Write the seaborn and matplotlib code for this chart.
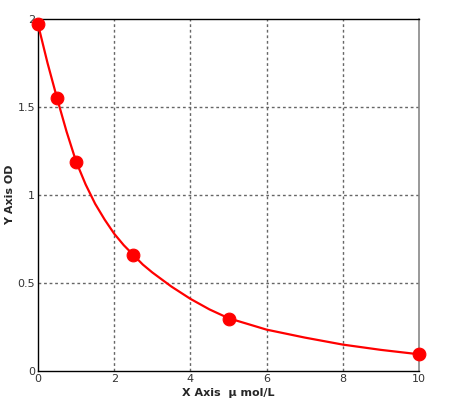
import numpy as np
import seaborn as sns
import matplotlib.pyplot as plt

# standard points
conc = [0, 0.5, 1, 2.5, 5, 10]
od = [1.97, 1.55, 1.19, 0.66, 0.295, 0.095]

# fitted curve
curve_x = [0, 0.25, 0.5, 0.75, 1, 1.25, 1.5, 1.75, 2, 2.25, 2.5, 2.75, 3, 3.5, 4, 4.5, 5, 6, 7, 8, 9, 10]
curve_y = [1.97, 1.75, 1.55, 1.36, 1.19, 1.06, 0.95, 0.86, 0.78, 0.715, 0.66, 0.605, 0.56, 0.48, 0.41, 0.35, 0.30, 0.235, 0.19, 0.15, 0.12, 0.095]

x_ticks = [0, 2, 4, 6, 8, 10]
y_ticks = [0, 0.5, 1, 1.5, 2]
y_labels = ["0", "0.5", "1", "1.5", "2"]

sns.set_style("white")
plt.rcParams["font.family"] = ["DejaVu Sans"]

fig = plt.figure(figsize=(4.53, 4.05), dpi=100)
ax = fig.add_axes([38 / 453, 34 / 405, 381 / 453, 352 / 405])

sns.lineplot(x=curve_x, y=curve_y, color="#ff0000", linewidth=1.6, ax=ax, zorder=3)
sns.scatterplot(x=conc, y=od, color="#ff0000", s=85, edgecolor="#ff0000", ax=ax, zorder=4, clip_on=False)

ax.set_xlim(0, 10)
ax.set_ylim(0, 2)
ax.set_xticks(x_ticks)
ax.set_yticks(y_ticks)
ax.set_yticklabels(y_labels)
ax.tick_params(length=0, labelsize=8, colors="#333333", pad=2)

for v in x_ticks[1:-1]:
    ax.axvline(v, color="#666666", linestyle=(0, (2, 2)), linewidth=1, zorder=1)
for v in y_ticks[1:-1]:
    ax.axhline(v, color="#666666", linestyle=(0, (2, 2)), linewidth=1, zorder=1)

for side in ["left", "bottom", "top"]:
    ax.spines[side].set_color("black")
    ax.spines[side].set_linewidth(1)
ax.spines["right"].set_color("#888888")
ax.spines["right"].set_linewidth(1.2)

ax.set_xlabel("X Axis  \u03bc mol/L", fontsize=8, fontweight="bold", labelpad=3)
ax.set_ylabel("Y Axis OD", fontsize=8, fontweight="bold", labelpad=2)

fig.savefig("out.png", dpi=100)
